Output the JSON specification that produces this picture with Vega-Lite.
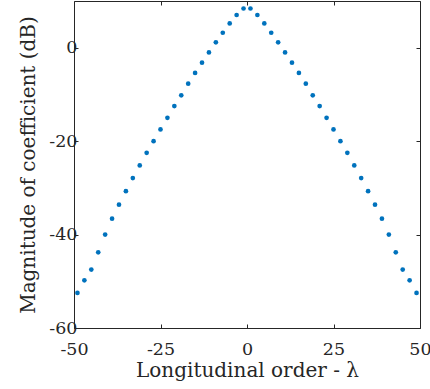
{
  "$schema": "https://vega.github.io/schema/vega-lite/v6.json",
  "autosize": "none",
  "padding": {"left": 74, "top": 1, "right": 10, "bottom": 61},
  "width": 346,
  "height": 327,
  "background": "white",
  "config": {
    "font": "DejaVu Serif",
    "view": {"stroke": null},
    "axis": {
      "domainColor": "#262626",
      "tickColor": "#262626",
      "labelColor": "#262626",
      "titleColor": "#262626",
      "labelFont": "DejaVu Serif",
      "titleFont": "DejaVu Serif",
      "labelFontSize": 17.5,
      "titleFontSize": 20,
      "titleFontWeight": "normal",
      "grid": false,
      "domainWidth": 1,
      "tickWidth": 1
    }
  },
  "data": {
    "values": [
      {"order": -49, "mag": -52.5}, {"order": -47, "mag": -49.8}, {"order": -45, "mag": -47.5},
      {"order": -43, "mag": -43.8}, {"order": -41, "mag": -40.0}, {"order": -39, "mag": -36.6},
      {"order": -37, "mag": -33.6}, {"order": -35, "mag": -30.7}, {"order": -33, "mag": -27.9},
      {"order": -31, "mag": -25.2}, {"order": -29, "mag": -22.5}, {"order": -27, "mag": -20.0},
      {"order": -25, "mag": -17.5}, {"order": -23, "mag": -15.0}, {"order": -21, "mag": -12.5},
      {"order": -19, "mag": -10.2}, {"order": -17, "mag": -7.7}, {"order": -15, "mag": -5.4},
      {"order": -13, "mag": -3.2}, {"order": -11, "mag": -1.0}, {"order": -9, "mag": 1.15},
      {"order": -7, "mag": 3.2}, {"order": -5, "mag": 5.2}, {"order": -3, "mag": 7.0},
      {"order": -1, "mag": 8.4},
      {"order": 1, "mag": 8.4}, {"order": 3, "mag": 7.0}, {"order": 5, "mag": 5.2},
      {"order": 7, "mag": 3.2}, {"order": 9, "mag": 1.15}, {"order": 11, "mag": -1.0},
      {"order": 13, "mag": -3.2}, {"order": 15, "mag": -5.4}, {"order": 17, "mag": -7.7},
      {"order": 19, "mag": -10.2}, {"order": 21, "mag": -12.5}, {"order": 23, "mag": -15.0},
      {"order": 25, "mag": -17.5}, {"order": 27, "mag": -20.0}, {"order": 29, "mag": -22.5},
      {"order": 31, "mag": -25.2}, {"order": 33, "mag": -27.9}, {"order": 35, "mag": -30.7},
      {"order": 37, "mag": -33.6}, {"order": 39, "mag": -36.6}, {"order": 41, "mag": -40.0},
      {"order": 43, "mag": -43.8}, {"order": 45, "mag": -47.5}, {"order": 47, "mag": -49.8},
      {"order": 49, "mag": -52.5}
    ]
  },
  "layer": [
    {
      "mark": {"type": "point", "filled": true, "opacity": 1, "size": 22, "color": "#0072BD"},
      "encoding": {
        "x": {
          "field": "order", "type": "quantitative",
          "scale": {"domain": [-50, 50], "nice": false, "zero": false},
          "axis": {"orient": "bottom", "values": [-50, -25, 0, 25, 50], "labelExpr": "toString(datum.value)", "tickSize": -4, "labelPadding": 16, "title": "Longitudinal order - λ", "titlePadding": 3, "labelFlush": false, "labelOverlap": false}
        },
        "y": {
          "field": "mag", "type": "quantitative",
          "scale": {"domain": [-60, 10], "nice": false, "zero": false},
          "axis": {"orient": "left", "values": [-60, -40, -20, 0], "labelExpr": "toString(datum.value)", "tickSize": -4, "labelPadding": 1, "title": "Magnitude of coefficient (dB)", "titlePadding": 10, "labelFlush": false, "labelOverlap": false}
        }
      }
    },
    {
      "mark": {"type": "point", "filled": true, "opacity": 0, "size": 22},
      "encoding": {
        "x": {
          "field": "order", "type": "quantitative",
          "scale": {"domain": [-50, 50], "nice": false, "zero": false},
          "axis": {"orient": "top", "values": [-50, -25, 0, 25, 50], "tickSize": -4, "labels": false, "title": null}
        },
        "y": {
          "field": "mag", "type": "quantitative",
          "scale": {"domain": [-60, 10], "nice": false, "zero": false},
          "axis": {"orient": "right", "values": [-60, -40, -20, 0], "tickSize": -4, "labels": false, "title": null}
        }
      }
    }
  ],
  "resolve": {"axis": {"x": "independent", "y": "independent"}}
}
